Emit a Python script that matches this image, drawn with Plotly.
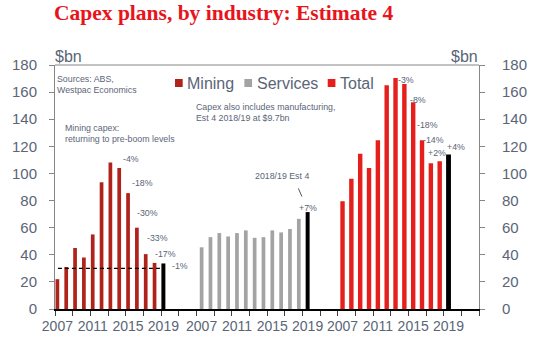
import plotly.graph_objects as go

# ---------------- data ----------------
years = list(range(2007, 2019))          # actual years shown as coloured bars
est_year = 2019                           # 2018/19 Estimate 4 (black bar)
tick_years = ["2007", "2011", "2015", "2019"]

mining = [22, 31, 45, 38, 55, 93.5, 108, 104, 85.5, 60, 40.5, 34]
mining_est4 = 33.6
services = [45.5, 53, 56, 53.5, 56, 58, 52.5, 53, 58, 56.5, 59, 66.5]
services_est4 = 71.5
total = [79.5, 96, 114.5, 104, 124.5, 165, 170.5, 166, 152.5, 124.5, 107.5, 109]
total_est4 = 114

pre_boom_level = 30

mining_pct = ["-4%", "-18%", "-30%", "-33%", "-17%", "-1%"]
services_pct = ["+7%"]
total_pct = ["-3%", "-8%", "-18%", "-14%", "+2%", "+4%"]

# ---------------- layout helpers ----------------
W, H = 539, 356
L = 52
R = W - 492
T = 65
B = H - 309
PW, PH = W - L - R, H - T - B


def px(x):
    return (x - L) / PW


def py(y):
    return (H - B - y) / PH


group_offset = [0.27, 16.6, 32.55]
TXT = "#5a6577"
AX = "#868686"
FONT = "Liberation Sans, Arial, sans-serif"

C_MIN = "#b0231a"
C_SER = "#a3a3a3"
C_TOT = "#e51f1b"


def xs(g, n):
    return [group_offset[g] + i for i in range(n)]


fig = go.Figure()
fig.add_bar(x=xs(0, len(mining)), y=mining, marker_color=C_MIN, width=0.42, name="Mining")
fig.add_bar(x=[group_offset[0] + len(mining)], y=[mining_est4], marker_color="#000000", width=0.45)
fig.add_bar(x=xs(1, len(services)), y=services, marker_color=C_SER, width=0.42, name="Services")
fig.add_bar(x=[group_offset[1] + len(services)], y=[services_est4], marker_color="#000000", width=0.45)
fig.add_bar(x=xs(2, len(total)), y=total, marker_color=C_TOT, width=0.5, name="Total", yaxis="y2")
fig.add_bar(x=[group_offset[2] + len(total)], y=[total_est4], marker_color="#000000", width=0.55, yaxis="y2")
fig.update_traces(marker_line_width=0, showlegend=False, hoverinfo="skip")

tickvals, ticktext = [], []
for g in range(3):
    for k, t in enumerate(tick_years):
        tickvals.append(group_offset[g] + 4 * k)
        ticktext.append(t)

yticks = list(range(0, 181, 20))
yax = dict(range=[0, 180], tickvals=yticks, showline=True, linecolor=AX, linewidth=1,
           ticks="outside", ticklen=5, tickcolor=AX, showgrid=False, zeroline=False,
           tickfont=dict(family=FONT, size=15, color=TXT))

fig.update_layout(
    width=W, height=H, margin=dict(l=L, r=R, t=T, b=B),
    paper_bgcolor="white", plot_bgcolor="white", barmode="overlay",
    xaxis=dict(range=[0, 48], tickvals=tickvals, ticktext=ticktext, ticks="",
               showline=True, linecolor="#000000", linewidth=1.5, showgrid=False, zeroline=False,
               tickfont=dict(family=FONT, size=14, color=TXT), ticklabelstandoff=3,
               minor=dict(tickmode="array", tickvals=list(range(0, 49, 2)), ticks="outside",
                          ticklen=5, tickcolor="#404040", showgrid=False)),
    yaxis=dict(yax, ticklabelstandoff=9),
    yaxis2=dict(yax, overlaying="y", side="right", ticklabelstandoff=14),
)

shapes = [
    dict(type="line", xref="paper", yref="paper", x0=0, x1=1, y0=1, y1=1,
         line=dict(color=AX, width=1)),
    dict(type="line", xref="x", yref="y", x0=0.33, x1=12.45, y0=pre_boom_level, y1=pre_boom_level,
         line=dict(color="#000000", width=1.3, dash="4px,3px")),
    dict(type="line", xref="x", yref="y", x0=27.55, x1=27.95, y0=89, y1=83,
         line=dict(color="#555555", width=1)),
]
# legend squares
for x0, col in [(176.5, C_MIN), (248.5, C_SER), (335, C_TOT)]:
    shapes.append(dict(type="rect", xref="paper", yref="paper", x0=px(x0), x1=px(x0 + 8),
                       y0=py(87), y1=py(79), fillcolor=col, line=dict(width=0)))
fig.update_layout(shapes=shapes)

ann = []


def text(x, y, s, size=8.8, color=TXT, xanchor="center", xref="x", yref="y", **kw):
    ann.append(dict(x=x, y=y, text=s, xref=xref, yref=yref, xanchor=xanchor, yanchor="middle",
                    showarrow=False, font=dict(family=FONT, size=size, color=color), align="left", **kw))


# title
text(px(49), py(12.5), "<b>Capex plans, by industry: Estimate 4</b>", size=21.5, color="#e8141c",
     xanchor="left", xref="paper", yref="paper")
ann[-1]["font"]["family"] = "Liberation Serif, Times New Roman, serif"
# $bn
text(px(66.5), py(56), "$bn", size=16, xref="paper", yref="paper")
text(px(477), py(56), "$bn", size=16, xref="paper", yref="paper")
# legend text
for x0, s in [(187, "Mining"), (260, "Services"), (346, "Total")]:
    text(px(x0), py(83), s, size=16, xanchor="left", xref="paper", yref="paper")
# notes
text(px(52), py(84.5), "Sources: ABS,<br>Westpac Economics", xanchor="left", xref="paper", yref="paper")
text(px(60), py(133.5), "Mining capex:<br>returning to pre-boom levels", xanchor="left", xref="paper", yref="paper")
text(px(196), py(112), "Capex also includes manufacturing,<br>Est 4 2018/19 at $9.7bn", xanchor="left",
     xref="paper", yref="paper")
text(25.75, 98, "2018/19 Est 4")

mining_pos = [(8.56, 110.7), (9.87, 93), (10.47, 70.8), (11.62, 52.4), (12.49, 40.6), (14.13, 31.7)]
for (x, y), s in zip(mining_pos, mining_pct):
    text(x, y, s)
services_pos = [(28.6, 74.5)]
for (x, y), s in zip(services_pos, services_pct):
    text(x, y, s)
total_pos = [(39.76, 169), (41.13, 154.2), (42.2, 135.7), (42.87, 124.7), (43.25, 115), (45.4, 119.5)]
for (x, y), s in zip(total_pos, total_pct):
    text(x, y, s)

fig.update_layout(annotations=ann)
fig.write_html("out.html", config={"displayModeBar": False},
               post_script="document.body.style.margin='0';document.body.style.overflow='hidden';")
